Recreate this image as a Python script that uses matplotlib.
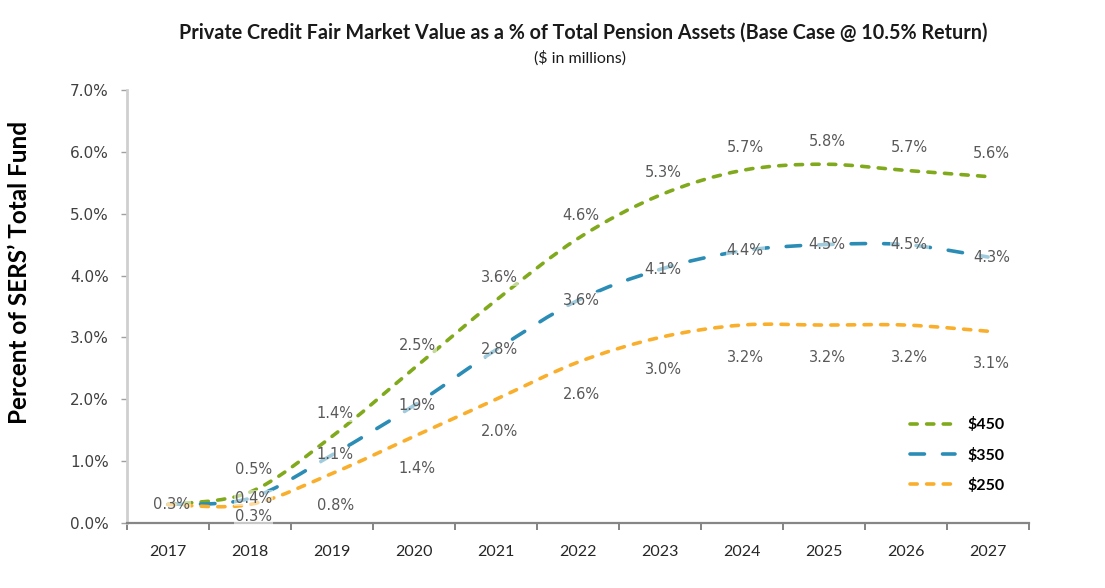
import matplotlib
matplotlib.use("Agg")

import matplotlib.pyplot as plt
import numpy as np
from matplotlib.lines import Line2D
from matplotlib.patches import PathPatch
from matplotlib.path import Path
from matplotlib.ticker import FixedLocator, PercentFormatter

years = ["2017", "2018", "2019", "2020", "2021", "2022",
         "2023", "2024", "2025", "2026", "2027"]
pct_450 = [0.3, 0.5, 1.4, 2.5, 3.6, 4.6, 5.3, 5.7, 5.8, 5.7, 5.6]
pct_350 = [0.3, 0.4, 1.1, 1.9, 2.8, 3.6, 4.1, 4.4, 4.5, 4.5, 4.3]
pct_250 = [0.3, 0.3, 0.8, 1.4, 2.0, 2.6, 3.0, 3.2, 3.2, 3.2, 3.1]
series_names = ["$450", "$350", "$250"]

GREEN = "#80AA1C"
BLUE = "#2B8DB6"
ORANGE = "#F9AF2C"
LABEL_GREY = "#595959"


def smooth_path(xs, ys):
    """Catmull-Rom style bezier through the points (like Excel's smoothed line)."""
    pts = np.column_stack([xs, ys]).astype(float)
    ext = np.vstack([pts[0], pts, pts[-1]])
    verts = [pts[0]]
    codes = [Path.MOVETO]
    for i in range(len(pts) - 1):
        p0, p1, p2, p3 = ext[i], ext[i + 1], ext[i + 2], ext[i + 3]
        verts += [p1 + (p2 - p0) / 6, p2 - (p3 - p1) / 6, p2]
        codes += [Path.CURVE4] * 3
    return Path(verts, codes)


fig = plt.figure(figsize=(11.05, 5.88), dpi=100)
ax = fig.add_axes([127 / 1105, 65 / 588, 902 / 1105, 433 / 588])

x = np.arange(len(years))
styles = [
    (pct_450, GREEN, (0, (2.0, 2.6)), 0.37),
    (pct_350, BLUE, (0, (4.0, 5.0)), 0.0),
    (pct_250, ORANGE, (0, (2.0, 2.6)), -0.52),
]

handles = []
for k, (vals, color, dash, offset) in enumerate(styles):
    patch = PathPatch(smooth_path(x, vals), fill=False, edgecolor=color,
                      linewidth=2.6, linestyle=dash, capstyle="round",
                      zorder=2)
    ax.add_patch(patch)
    handles.append(Line2D([], [], color=color, lw=2.6, linestyle=dash,
                          dash_capstyle="round"))
    for i, v in enumerate(vals):
        if i == 0 and offset != 0.0:
            continue  # only one label visible at 2017
        ly = max(v + offset, 0.1)
        ax.text(x[i] + 0.04, ly, f"{v:.1f}%", ha="center", va="center",
                fontsize=10.5, color=LABEL_GREY, zorder=4,
                bbox=dict(boxstyle="square,pad=0.05", fc="white",
                          ec="none", alpha=0.55))

ax.set_xlim(-0.5, len(years) - 0.5)
ax.set_ylim(0, 7)

# category labels at the centres, tick marks between categories
ax.set_xticks(x)
ax.set_xticklabels(years, fontfamily="Lato", fontsize=11.5, color="#262626")
ax.tick_params(axis="x", which="major", length=0, pad=16)
ax.xaxis.set_minor_locator(FixedLocator(np.arange(-0.5, len(years), 1.0)))
ax.tick_params(axis="x", which="minor", length=5, width=1.2,
               color="#707070", direction="out")

ax.set_yticks(np.arange(0, 7.01, 1.0))
ax.yaxis.set_major_formatter(PercentFormatter(decimals=1))
ax.tick_params(axis="y", length=4, width=1, color="#A0A0A0", pad=9,
               labelsize=11, labelcolor="#404040")

for s in ["top", "right"]:
    ax.spines[s].set_visible(False)
ax.spines["bottom"].set_color("#868686")
ax.spines["bottom"].set_linewidth(1.6)
ax.spines["left"].set_color("#CFCFCF")
ax.spines["left"].set_linewidth(2)

fig.text(20 / 1105, 1 - 272 / 588, "Percent of SERS\u2019 Total Fund",
         rotation=90, ha="center", va="center", fontfamily="Lato",
         fontweight="bold", fontsize=17.5, color="black")

fig.text(583 / 1105, 1 - 33 / 588,
         "Private Credit Fair Market Value as a % of Total Pension Assets "
         "(Base Case @ 10.5% Return)",
         ha="center", va="center", fontfamily="Lato", fontweight="bold",
         fontsize=14.2, color="#1a1a1a")
fig.text(580 / 1105, 1 - 58 / 588, "($ in millions)", ha="center",
         va="center", fontfamily="Lato", fontsize=11.5, color="#1a1a1a")

ax.legend(handles, series_names, loc="upper left", frameon=False,
          bbox_to_anchor=(896 / 1105, 1 - 403 / 588),
          bbox_transform=fig.transFigure, handlelength=2.8,
          handletextpad=0.8, labelspacing=0.95,
          prop={"family": "Lato", "weight": "bold", "size": 11.5})

fig.savefig("out.png", dpi=100)
